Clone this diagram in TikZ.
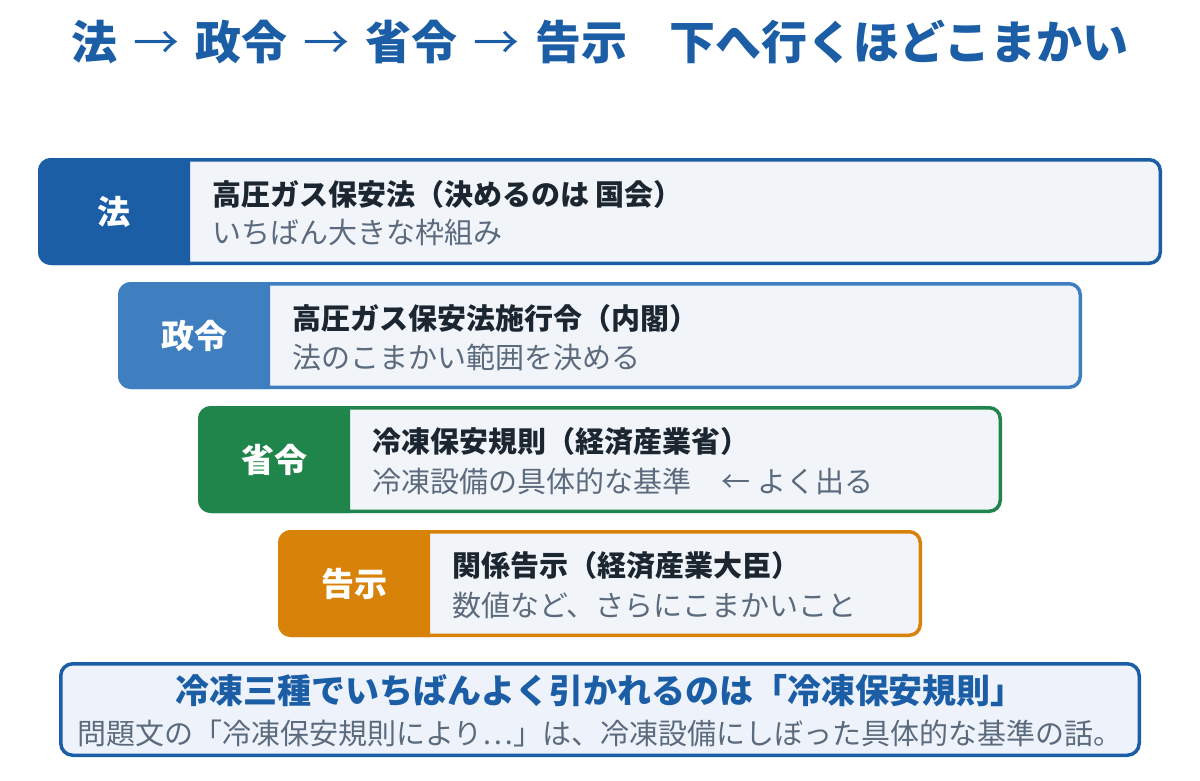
\documentclass[tikz,border=0pt]{standalone}
\usepackage{fontspec}
\setmainfont{Noto Sans CJK JP}
\definecolor{cA}{HTML}{1B5EA6}
\definecolor{cB}{HTML}{3F7FC0}
\definecolor{cC}{HTML}{20854A}
\definecolor{cD}{HTML}{D9820A}
\definecolor{pane}{HTML}{F1F4F9}
\definecolor{note}{HTML}{EEF3FB}
\definecolor{ink}{HTML}{1C2631}
\definecolor{sub}{HTML}{5B6B7D}
\tikzset{
  maintext/.style={anchor=west, inner sep=0pt, text=ink, font=\fontsize{29}{32}\selectfont\bfseries},
  subtext/.style={anchor=west, inner sep=0pt, text=sub, font=\fontsize{29}{32}\selectfont},
  tagtext/.style={inner sep=0pt, text=white, font=\fontsize{33}{36}\selectfont\bfseries},
}
\newcommand{\tierbox}[5]{%
  \fill[pane, rounded corners=13pt] (#1,#2) rectangle (#3,#4);
  \begin{scope}
    \clip (#1-5,#2-5) rectangle (#1+152,#4+5);
    \fill[#5, rounded corners=13pt] (#1,#2) rectangle (#3,#4);
  \end{scope}
  \draw[#5, line width=3.5pt, rounded corners=11pt] (#1+1.75,#2+1.75) rectangle (#3-1.75,#4-1.75);
}
\newcommand{\tarrow}{\hspace{16pt}{\mdseries →}\hspace{16pt}}
\begin{document}
\begin{tikzpicture}[x=1pt,y=-1pt]
\useasboundingbox (0,0) rectangle (1200,780);
\node[inner sep=0pt, text=cA, font=\fontsize{46}{50}\selectfont\bfseries] (title) at (600,42)
  {法\tarrow 政令\tarrow 省令\tarrow 告示\hspace{0.9em}下へ行くほどこまかい};

\tierbox{38}{158}{1162}{265}{cA}
\node[tagtext] (t1) at (114,212) {法};
\node[maintext] (m1) at (212,194) {高圧ガス保安法（決めるのは 国会）};
\node[subtext] (s1) at (212,233) {いちばん大きな枠組み};

\tierbox{118}{282}{1082}{389}{cB}
\node[tagtext] (t2) at (194,336) {政令};
\node[maintext] (m2) at (292,318) {高圧ガス保安法施行令（内閣）};
\node[subtext] (s2) at (292,357) {法のこまかい範囲を決める};

\tierbox{198}{406}{1002}{513}{cC}
\node[tagtext] (t3) at (274,460) {省令};
\node[maintext] (m3) at (372,442) {冷凍保安規則（経済産業省）};
\node[subtext] (s3) at (372,481) {冷凍設備の具体的な基準\hspace{1.05em}← よく出る};

\tierbox{278}{530}{922}{637}{cD}
\node[tagtext] (t4) at (354,584) {告示};
\node[maintext] (m4) at (452,566) {関係告示（経済産業大臣）};
\node[subtext] (s4) at (452,605) {数値など、さらにこまかいこと};

\draw[cA, fill=note, line width=3.5pt, rounded corners=12pt] (60.75,663.75) rectangle (1139.25,755.25);
\node[inner sep=0pt, text=cA, font=\fontsize{34}{38}\selectfont\bfseries] (n1) at (600,691) {冷凍三種でいちばんよく引かれるのは「冷凍保安規則」};
\node[inner sep=0pt, text=sub, font=\fontsize{29}{32}\selectfont] (n2) at (600,733) {問題文の「冷凍保安規則により…」は、冷凍設備にしぼった具体的な基準の話。};
\end{tikzpicture}
\end{document}
